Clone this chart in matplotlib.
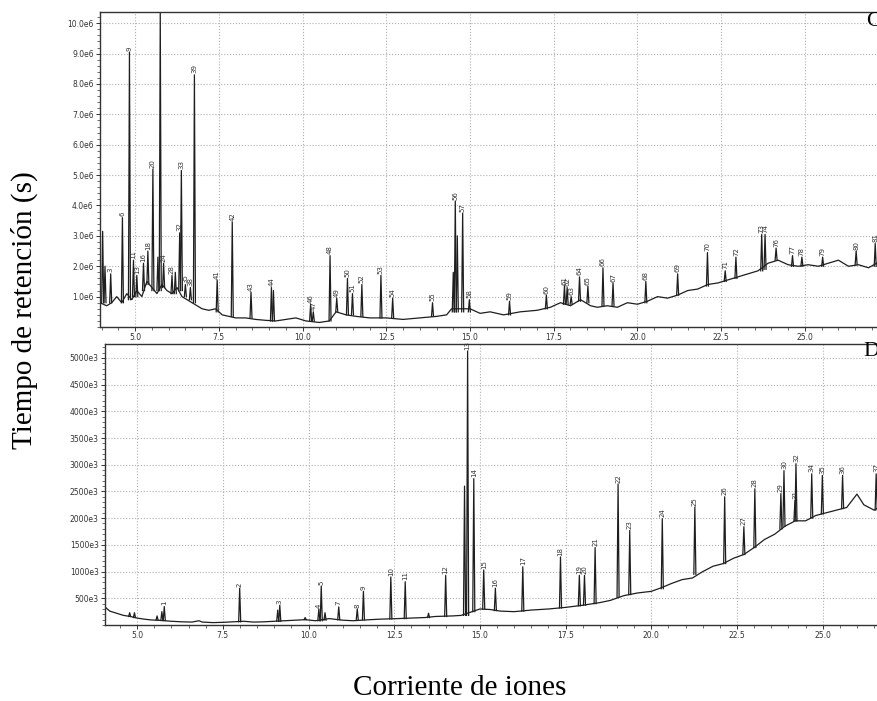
import matplotlib
matplotlib.use('Agg')
from matplotlib import pyplot as plt
from matplotlib.ticker import FixedLocator, MultipleLocator

# Panel C: baseline (min, e6) and labelled peaks
base_c_t = [3.95, 4.05, 4.15, 4.3, 4.45, 4.6, 4.75, 4.9, 5.05, 5.2, 5.35, 5.5,
            5.65, 5.8, 5.95, 6.1, 6.25, 6.4, 6.55, 6.7, 6.85, 7.0, 7.2, 7.4,
            7.6, 7.8, 8.0, 8.3, 8.6, 8.9, 9.2, 9.5, 9.8, 10.1, 10.5, 10.8,
            11.0, 11.3, 11.6, 12.0, 12.5, 13.0, 13.5, 14.0, 14.3, 14.45, 15.0,
            15.3, 15.6, 16.0, 16.5, 17.0, 17.4, 17.7, 18.0, 18.3, 18.6, 18.8,
            19.1, 19.4, 19.7, 20.0, 20.3, 20.6, 20.9, 21.2, 21.5, 21.8, 22.1,
            22.4, 22.7, 23.0, 23.3, 23.6, 23.9, 24.2, 24.5, 24.8, 25.1, 25.4,
            25.7, 26.0, 26.3, 26.6, 26.9, 27.3]
base_c_y = [0.8, 0.75, 0.7, 0.8, 1.0, 0.8, 1.1, 0.9, 1.2, 1.0, 1.5, 1.3,
            1.1, 1.4, 1.2, 1.1, 1.3, 1.0, 0.9, 0.8, 0.7, 0.6, 0.55, 0.6,
            0.4, 0.35, 0.3, 0.3, 0.25, 0.22, 0.2, 0.25, 0.3, 0.2, 0.15, 0.2,
            0.5, 0.4, 0.35, 0.3, 0.3, 0.25, 0.3, 0.35, 0.4, 0.6, 0.6,
            0.45, 0.5, 0.4, 0.5, 0.55, 0.65, 0.8, 0.7, 0.9, 0.7, 0.65,
            0.7, 0.65, 0.8, 0.75, 0.85, 1.0, 0.95, 1.05, 1.2, 1.25, 1.4,
            1.45, 1.55, 1.65, 1.75, 1.85, 2.1, 2.2, 2.05, 2.0, 2.05, 2.0,
            2.1, 2.2, 2.0, 2.05, 1.95, 2.2]

peak_c_t = [4.03, 4.1, 4.27, 4.62, 4.83, 4.95, 5.05, 5.25, 5.38, 5.53, 5.68,
            5.75, 5.85, 6.1, 6.2, 6.33, 6.38, 6.5, 6.65, 6.77, 7.45, 7.9,
            8.46, 9.07, 9.13, 10.24, 10.32, 10.82, 11.02, 11.34, 11.49, 11.77,
            12.34, 12.69, 13.88, 14.5, 14.56, 14.62, 14.78, 14.98, 16.18, 17.28,
            17.82, 17.9, 18.02, 18.27, 18.52, 18.97, 19.27, 20.25, 21.2, 22.09,
            22.62, 22.94, 23.71, 23.81, 24.14, 24.63, 24.91, 25.53, 26.53, 27.1]
peak_c_foot = [0.8, 0.8, 0.8, 0.8, 0.9, 1.0, 1.0, 1.2, 1.4, 1.2, 1.2,
               1.2, 1.3, 1.1, 1.1, 1.2, 1.2, 1.0, 0.9, 0.8, 0.5, 0.35,
               0.3, 0.2, 0.2, 0.2, 0.2, 0.2, 0.5, 0.4, 0.4, 0.35,
               0.3, 0.3, 0.35, 0.5, 0.5, 0.5, 0.5, 0.5, 0.4, 0.6,
               0.75, 0.75, 0.75, 0.85, 0.8, 0.7, 0.7, 0.8, 1.05, 1.35,
               1.5, 1.6, 1.85, 1.9, 2.2, 2.0, 2.0, 2.0, 2.05, 2.0]
peak_c_h = [3.15, 2.0, 1.75, 3.6, 9.05, 2.2, 1.7, 2.1, 2.5, 5.2, 2.3,
            10.4, 2.1, 1.7, 1.8, 3.1, 5.15, 1.4, 1.3, 8.3, 1.55, 3.45,
            1.15, 1.3, 1.2, 0.75, 0.5, 2.35, 0.95, 1.6, 1.1, 1.4,
            1.7, 0.95, 0.8, 1.8, 4.15, 3.0, 3.75, 0.9, 0.85, 1.05,
            1.35, 1.3, 1.0, 1.65, 1.35, 1.95, 1.45, 1.5, 1.75, 2.45,
            1.85, 2.3, 3.05, 3.05, 2.6, 2.35, 2.3, 2.3, 2.5, 2.75]
peak_c_lab = ['', '', '3', '6', '9', '11', '13', '16', '18', '20', '',
              '23', '24', '28', '', '32', '33', '35', '38', '39', '41', '42',
              '43', '44', '', '46', '47', '48', '49', '50', '51', '52',
              '53', '54', '55', '', '56', '', '57', '58', '59', '60',
              '61', '62', '63', '64', '65', '66', '67', '68', '69', '70',
              '71', '72', '73', '74', '76', '77', '78', '79', '80', '81']

# Panel D: baseline (min, e3) and labelled peaks
base_d_t = [4.06, 4.2, 4.4, 4.6, 4.8, 5.0, 5.2, 5.4, 5.6, 5.8, 6.0, 6.3,
            6.6, 6.8, 6.9, 7.2, 7.5, 7.8, 8.1, 8.4, 8.7, 9.0, 9.3, 9.6,
            9.9, 10.2, 10.6, 11.0, 11.3, 11.8, 12.1, 12.6, 13.0, 13.4, 13.7,
            14.2, 14.45, 15.0, 15.3, 15.6, 16.0, 16.5, 17.0, 17.5, 18.0, 18.5,
            18.8, 19.2, 19.6, 20.0, 20.3, 20.6, 20.9, 21.2, 21.5, 21.8, 22.1,
            22.4, 22.7, 23.0, 23.3, 23.6, 23.9, 24.2, 24.5, 24.8, 25.1, 25.4,
            25.7, 26.0, 26.2, 26.5, 26.75]
base_d_y = [340, 260, 220, 180, 160, 130, 110, 95, 90, 80, 70, 60,
            55, 80, 55, 45, 50, 60, 70, 55, 60, 70, 80, 90,
            100, 80, 120, 90, 80, 100, 110, 120, 130, 140, 160,
            170, 180, 300, 290, 260, 250, 280, 300, 330, 370, 420,
            460, 550, 600, 630, 700, 780, 850, 880, 1000, 1100, 1150,
            1250, 1320, 1450, 1600, 1700, 1850, 1950, 1950, 2050, 2100, 2150,
            2200, 2450, 2250, 2150, 2250]

peak_d_t = [4.78, 4.92, 5.58, 5.72, 5.79, 7.99, 9.1, 9.16, 9.9, 10.3, 10.37,
            10.48, 10.88, 11.42, 11.6, 12.4, 12.82, 13.5, 14.0, 14.55, 14.64,
            14.82, 15.11, 15.45, 16.25, 17.35, 17.9, 18.05, 18.36, 19.03, 19.37,
            20.32, 21.27, 22.14, 22.7, 23.02, 23.78, 23.87, 24.19, 24.22, 24.68,
            24.99, 25.58, 26.56]
peak_d_foot = [160, 140, 90, 85, 85, 60, 70, 70, 100, 80, 80,
               90, 100, 90, 100, 115, 120, 140, 160, 180, 180,
               250, 300, 270, 260, 320, 360, 370, 400, 520, 570,
               680, 950, 1150, 1320, 1450, 1800, 1850, 1950, 1950, 2000,
               2080, 2180, 2150]
peak_d_h = [230, 230, 170, 250, 345, 690, 280, 370, 140, 300, 730,
            230, 340, 300, 630, 900, 810, 220, 930, 2600, 5130,
            2740, 1030, 690, 1090, 1275, 930, 930, 1450, 2640, 1770,
            1990, 2210, 2400, 1840, 2550, 2460, 2890, 2330, 3020, 2830,
            2800, 2800, 2830]
peak_d_lab = ['', '', '', '', '1', '2', '', '3', '', '4', '5',
              '', '7', '8', '9', '10', '11', '', '12', '', '13',
              '14', '15', '16', '17', '18', '19', '20', '21', '22', '23',
              '24', '25', '26', '27', '28', '29', '30', '31', '32', '34',
              '35', '36', '37']

c_ticks = [1.0, 2.0, 3.0, 4.0, 5.0, 6.0, 7.0, 8.0, 9.0, 10.0]
d_ticks = [500, 1000, 1500, 2000, 2500, 3000, 3500, 4000, 4500, 5000]
x_ticks = [5.0, 7.5, 10.0, 12.5, 15.0, 17.5, 20.0, 22.5, 25.0]

serif = 'Liberation Serif'
ink = '#1e1e1e'

fig = plt.figure(figsize=(8.77, 7.01), dpi=100)
ax_c = fig.add_axes([0.114, 0.5335, 0.892, 0.449])
ax_d = fig.add_axes([0.1197, 0.1084, 0.886, 0.4009])


def draw_panel(ax, bt, by, pt, pf, ph, pl):
    ax.plot(bt, by, color=ink, lw=0.9)
    w = 0.03
    for t, f, h, lab in zip(pt, pf, ph, pl):
        ax.plot([t - w, t, t + w], [f, h, f], color=ink, lw=0.9)
        if lab:
            ax.annotate(lab, (t, h), xytext=(0, 1),
                        textcoords='offset points', rotation=90,
                        ha='center', va='bottom', fontsize=5, color='#333333')


draw_panel(ax_c, base_c_t, base_c_y, peak_c_t, peak_c_foot, peak_c_h,
           peak_c_lab)
draw_panel(ax_d, base_d_t, base_d_y, peak_d_t, peak_d_foot, peak_d_h,
           peak_d_lab)

ax_c.set_xlim(3.95, 27.31)
ax_c.set_ylim(0, 10.36)
ax_d.set_xlim(4.06, 26.73)
ax_d.set_ylim(0, 5260)

ax_c.yaxis.set_major_locator(FixedLocator(c_ticks))
ax_c.set_yticklabels(['%.1fe6' % v for v in c_ticks])
ax_c.yaxis.set_minor_locator(MultipleLocator(0.2))
ax_d.yaxis.set_major_locator(FixedLocator(d_ticks))
ax_d.set_yticklabels(['%de3' % v for v in d_ticks])
ax_d.yaxis.set_minor_locator(MultipleLocator(100))

for ax in (ax_c, ax_d):
    ax.xaxis.set_major_locator(FixedLocator(x_ticks))
    ax.set_xticklabels(['%.1f' % v for v in x_ticks])
    ax.xaxis.set_minor_locator(MultipleLocator(0.5))
    ax.grid(True, which='major', color='#b0b0b0', ls=':', lw=0.8)
    ax.tick_params(axis='both', which='major', labelsize=5.5, length=3,
                   width=0.7, colors='#333333', pad=1.5)
    ax.tick_params(axis='both', which='minor', length=2, width=0.5,
                   colors='#333333')
    for side in ('left', 'bottom', 'top'):
        ax.spines[side].set_linewidth(1.0)
        ax.spines[side].set_color('#333333')
    ax.spines['right'].set_visible(False)

# panel letters, cut by the right edge as in the scan
fig.text(0.988, 0.969, 'C', fontsize=16, family=serif, ha='left', va='center')
fig.text(0.985, 0.498, 'D', fontsize=16, family=serif, ha='left', va='center')

fig.text(0.028, 0.558, 'Tiempo de retención (s)', rotation=90, fontsize=21,
         family=serif, ha='center', va='center')
fig.text(0.5245, 0.0185, 'Corriente de iones', fontsize=21, family=serif,
         ha='center', va='center')

fig.savefig('out.png', dpi=100)
